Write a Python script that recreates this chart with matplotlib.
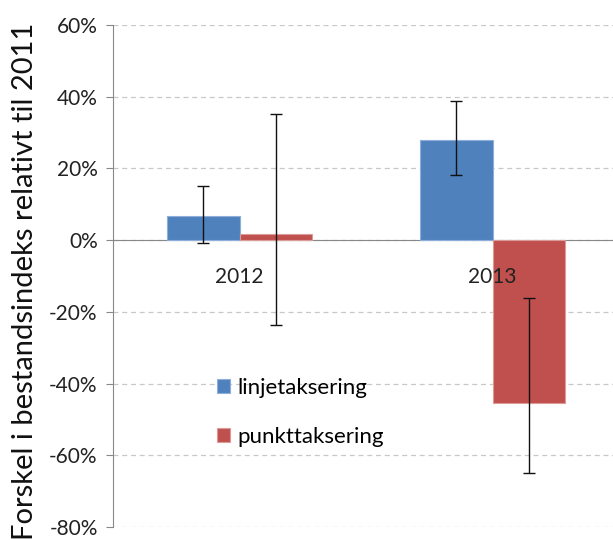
import numpy as np
import matplotlib.pyplot as plt
from matplotlib.ticker import PercentFormatter

# Data (percent change relative to 2011)
years = ["2012", "2013"]
linje = [6.6, 27.8]
linje_hi = [15.2, 38.7]
linje_lo = [-0.9, 18.1]
punkt = [1.7, -45.5]
punkt_hi = [35.2, -16.0]
punkt_lo = [-23.7, -64.9]

plt.rcParams['font.family'] = ['Lato', 'DejaVu Sans']
plt.rcParams['axes.unicode_minus'] = False

fig = plt.figure(figsize=(6.13, 5.40), dpi=100)
ax = fig.add_axes([113/613, 13/540, 500/613, 502/540])

x = np.arange(len(years))
w = 0.285

# asymmetric error bars from the low/high ends
lerr = [np.array(linje) - np.array(linje_lo), np.array(linje_hi) - np.array(linje)]
perr = [np.array(punkt) - np.array(punkt_lo), np.array(punkt_hi) - np.array(punkt)]

ax.bar(x - w/2, linje, w, color='#4F81BD', edgecolor='#8EAEDB', linewidth=0.8,
       label='linjetaksering', zorder=3)
ax.bar(x + w/2, punkt, w, color='#C0504D', edgecolor='#DC9A98', linewidth=0.8,
       label='punkttaksering', zorder=3)
ax.errorbar(x - w/2, linje, yerr=lerr, fmt='none', ecolor='#111111', elinewidth=1,
            capsize=4.5, capthick=1, zorder=4)
ax.errorbar(x + w/2, punkt, yerr=perr, fmt='none', ecolor='#111111', elinewidth=1,
            capsize=4.5, capthick=1, zorder=4)

ax.set_ylim(-80, 60)
ax.set_xlim(-0.5, 1.476)
ax.set_yticks(np.arange(-80, 61, 20))
ax.yaxis.set_major_formatter(PercentFormatter(decimals=0))
ax.yaxis.grid(True, linestyle=(0, (4, 3)), color='#C8C8C8', linewidth=0.9, zorder=0)

# category labels sit just under the zero line, drawn on top of the bars
ax.set_xticks([])
for i, yr in enumerate(years):
    ax.annotate(yr, (i, 0), xytext=(0, -19), textcoords='offset points',
                ha='center', va='top', fontsize=15, color='#222222', zorder=5)

ax.spines['bottom'].set_position(('data', 0))
ax.spines['bottom'].set_color('#888888')
ax.spines['left'].set_color('#888888')
ax.spines['top'].set_visible(False)
ax.spines['right'].set_visible(False)
ax.tick_params(axis='y', length=5, color='#888888', labelsize=15, colors='#222222', pad=6)
ax.set_ylabel('Forskel i bestandsindeks relativt til 2011', fontsize=21, color='#111111')
ax.yaxis.set_label_coords(-0.15, 0.49)

ax.legend(loc='upper left', bbox_to_anchor=(0.19, 0.315), frameon=False, fontsize=16,
          handlelength=0.6, handleheight=0.6, handletextpad=0.3, labelspacing=1.3,
          borderaxespad=0)

fig.savefig('out.png', dpi=100)
